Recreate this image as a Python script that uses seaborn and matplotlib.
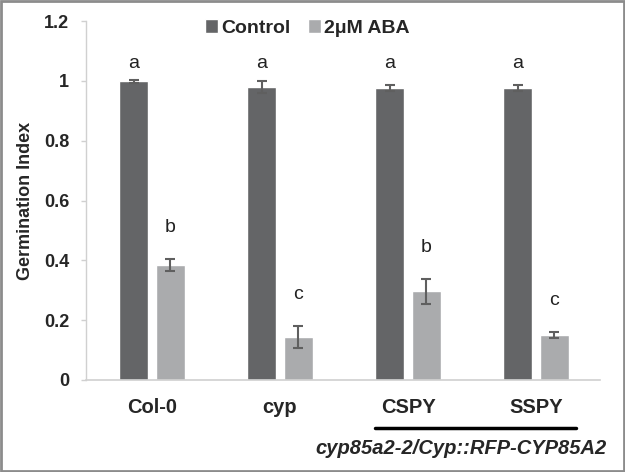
import matplotlib
matplotlib.use("Agg")
import matplotlib.pyplot as plt
import seaborn as sns
import pandas as pd
import numpy as np

genotypes = ["Col-0", "cyp", "CSPY", "SSPY"]
treatments = ["Control", "2μM ABA"]
control_vals = [0.998, 0.980, 0.975, 0.975]
control_err = [0.004, 0.020, 0.010, 0.010]
aba_vals = [0.386, 0.143, 0.296, 0.150]
aba_err = [0.020, 0.037, 0.043, 0.010]
control_letters = ["a", "a", "a", "a"]
aba_letters = ["b", "c", "b", "c"]
bracket_label = "cyp85a2-2/Cyp::RFP-CYP85A2"

sns.set_style("white")
plt.rcParams["font.family"] = ["Liberation Sans", "DejaVu Sans"]

df = pd.DataFrame({
    "Genotype": genotypes * 2,
    "Treatment": [treatments[0]] * 4 + [treatments[1]] * 4,
    "Value": control_vals + aba_vals,
})

fig = plt.figure(figsize=(6.25, 4.72), dpi=100)
ax = fig.add_axes([86 / 625, 1 - 380 / 472, 514 / 625, 359 / 472])
palette = {"Control": "#646567", "2μM ABA": "#aaabad"}
sns.barplot(data=df, x="Genotype", y="Value", hue="Treatment", order=genotypes,
            hue_order=treatments, palette=palette, width=0.575, gap=0.21,
            errorbar=None, ax=ax, saturation=1)

errs = [control_err, aba_err]
vals = [control_vals, aba_vals]
letters = [control_letters, aba_letters]
bar_containers = list(ax.containers)[:2]
for ci, cont in enumerate(bar_containers):
    for bi, bar in enumerate(list(cont)):
        xc = bar.get_x() + bar.get_width() / 2
        v = vals[ci][bi]
        e = errs[ci][bi]
        ax.errorbar(xc, v, yerr=e, color="#5f5f5f", capsize=3.6, elinewidth=1.5,
                    capthick=1.5, fmt="none", zorder=3)
        if ci == 0:
            ty = 1.058
        else:
            ty = v + e + 0.105
        ax.text(xc, ty, letters[ci][bi], ha="center", va="center", fontsize=14,
                color="#222222")

ax.set_ylim(0, 1.2)
ax.set_xlim(-0.516, 3.5)
ax.set_yticks(np.arange(0, 1.21, 0.2))
ax.set_yticklabels(["0", "0.2", "0.4", "0.6", "0.8", "1", "1.2"], fontsize=13,
                   fontweight="bold")
ax.set_xticks(range(4))
ax.set_xticklabels(genotypes, fontsize=14.5, fontweight="bold")
ax.tick_params(axis="x", length=0, pad=13)
ax.tick_params(axis="y", length=3.6, width=1, color="#d0d0d0", left=True, pad=8.5)
ax.set_xlabel("")
ax.set_ylabel("Germination Index", fontsize=13, fontweight="bold", labelpad=7)
for s in ["top", "right"]:
    ax.spines[s].set_visible(False)
ax.spines["left"].set_color("#d0d0d0")
ax.spines["bottom"].set_color("#d0d0d0")
ax.spines["left"].set_linewidth(1)
ax.spines["bottom"].set_linewidth(1.2)

leg = ax.legend(loc="center", bbox_to_anchor=(0.43, 0.98), ncol=2, frameon=False,
                handlelength=0.67, handleheight=0.67, handletextpad=0.15,
                columnspacing=0.9, prop={"size": 14, "weight": "bold"})

# bracket below CSPY and SSPY
fig.add_artist(plt.Line2D([375 / 625, 576 / 625], [1 - 428 / 472, 1 - 428 / 472],
                          color="black", lw=2.5))
fig.text(461 / 625, 1 - 448 / 472, bracket_label, ha="center", va="center",
         fontsize=14.5, fontweight="bold", style="italic")

# outer gray border
fig.add_artist(plt.Rectangle((0.002, 0.002), 0.996, 0.996, transform=fig.transFigure,
                             fill=False, edgecolor="#8c8c8c", lw=2))

fig.savefig("out.png", dpi=100)
